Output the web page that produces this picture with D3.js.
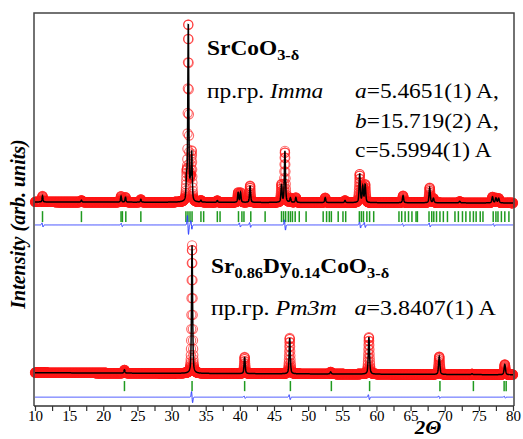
<!DOCTYPE html>
<html>
<head>
<meta charset="utf-8">
<script src="https://cdnjs.cloudflare.com/ajax/libs/d3/7.8.5/d3.min.js"></script>
<style>
  body { margin: 0; background: #fff; }
  text { font-family: "Liberation Serif", "Times New Roman", serif; }
</style>
</head>
<body>
<div id="chart"></div>
<script>
var width = 523;
var height = 439;

// x axis
var xMin = 10, xMax = 80;
var xTickLabels = [10, 15, 20, 25, 30, 35, 40, 45, 50, 55, 60, 65, 70, 75, 80];
var xStep = 0.02;

// SrCoO3-d (Imma): peak positions (2theta) and heights (% of strongest)
var upperPeakPos =    [11.1, 16.8, 22.6, 23.25, 25.5, 32.2, 32.45, 32.75, 32.95, 34.3, 36.7, 39.75, 40.1, 41.5, 46.1, 46.6, 47.4, 48.2, 52.5, 55.4, 57.55, 58.0, 58.35, 63.9, 67.8, 68.35, 72.2, 77.0, 77.5, 77.9];
var upperPeakHeight = [3.4,  1.0,  3.4,  2.8,   1.6,  12,   100,   9,     27,    1.0,  1.0,  5.5,   5.5,  9.5,  10,   29,   2.5,  2.8,  2.8,  1.2,  16,    9,    10,    4,    8.5,  2.5,   0.9,  3.4,  2.8,  2.6];
var upperBackground = [[10, 0.6], [80, 0]];
// Imma reflection markers
var upperTicks = [11.1, 16.8, 22.6, 22.8, 23.3, 25.5, 32.1, 32.4, 32.7, 33.0, 34.3, 34.7, 36.7, 37.1, 39.8, 40.3, 40.6, 41.6, 43.7,
  46.1, 46.4, 46.7, 47.1, 47.4, 47.7, 48.1, 48.7, 49.7, 52.2, 52.7, 53.1, 53.4, 54.4, 55.1, 55.5,
  57.5, 57.8, 58.1, 58.6, 59.0, 59.6, 63.3, 63.7, 64.2, 64.7, 65.2, 65.8, 66.0,
  67.7, 68.1, 68.4, 68.8, 69.3, 69.8, 70.4, 71.5, 72.0, 72.6, 73.1, 73.7, 74.2, 74.6, 75.2, 75.6,
  77.1, 77.5, 77.8, 78.3, 78.8, 79.4];
// difference curve wiggles: position, amplitude
var upperDiffPos = [11.1, 22.7, 32.4, 32.9, 40.0, 41.5, 46.6, 57.6, 58.3, 63.9, 67.8, 77.2];
var upperDiffAmp = [1.2,  1.0,  5.5,  2.5,  1.2,  1.4,  3.0,  1.8,  1.5,  0.8,  1.2,  0.8];

// Sr0.86Dy0.14CoO3-d (Pm3m)
var lowerPeakPos =    [23.1, 33.0, 40.7, 47.3, 53.3, 58.9, 69.2, 74.0, 78.8];
var lowerPeakHeight = [2.6,  100,  13,   28,   1.6,  29,   14,   0.6,  8];
var lowerBackground = [[10, 1.0], [80, -0.6]];
var lowerTicks = [23.1, 33.0, 40.7, 47.4, 53.4, 59.0, 69.3, 74.2, 78.7, 79.0];
var lowerDiffPos = [33.0, 40.7, 47.3, 58.9, 69.2, 78.8];
var lowerDiffAmp = [4.5,  1.0,  2.0,  2.0,  1.0,  0.8];

var upperFwhm = 0.15, lowerFwhm = 0.16;

// layout
var plotLeft = 34, plotRight = 514, plotTop = 13, plotBottom = 406;
var textStretch = 1.17;

var svg = d3.select('#chart').append('svg')
  .attr('width', width)
  .attr('height', height);

var x = d3.scaleLinear().domain([xMin, xMax]).range([plotLeft + 1, plotRight - 1]);

function pseudoVoigt(t, pos, fwhm) {
  var h = fwhm / 2;
  var d = t - pos;
  var lor = 1 / (1 + (d * d) / (h * h));
  var gau = Math.exp(-Math.LN2 * (d * d) / (h * h));
  return 0.5 * lor + 0.5 * gau;
}

function buildProfile(pos, heights, bg, fwhm) {
  var bgScale = d3.scaleLinear().domain(bg.map(function (b) { return b[0]; })).range(bg.map(function (b) { return b[1]; }));
  var pts = [];
  for (var t = xMin; t <= xMax + 1e-9; t += xStep) {
    var v = bgScale(t);
    for (var i = 0; i < pos.length; i++) {
      if (Math.abs(t - pos[i]) < 6) {
        v += heights[i] * pseudoVoigt(t, pos[i], fwhm * (1 + (pos[i] - 10) / 140));
      }
    }
    pts.push([t, v]);
  }
  return pts;
}

function buildDiff(pos, amps, offset) {
  var pts = [];
  for (var t = xMin; t <= xMax + 1e-9; t += xStep) {
    var v = offset;
    for (var i = 0; i < pos.length; i++) {
      var d = (t - pos[i]) / 0.08;
      if (Math.abs(d) < 8) {
        v += -amps[i] * d * Math.exp(-d * d / 2) * 1.6;
      }
    }
    pts.push([t, v]);
  }
  return pts;
}

function drawPanel(cfg) {
  var y = d3.scaleLinear().domain([0, 100]).range([cfg.base, cfg.top]);
  var g = svg.append('g');
  var profile = buildProfile(cfg.pos, cfg.heights, cfg.bg, cfg.fwhm);

  // observed (open circles)
  g.append('g').selectAll('circle')
    .data(profile)
    .enter()
    .append('circle')
    .attr('cx', function (d) { return x(d[0]); })
    .attr('cy', function (d) { return y(d[1]); })
    .attr('r', 4.6)
    .attr('fill', 'none')
    .attr('stroke', '#ff1a1a')
    .attr('stroke-opacity', 0.65)
    .attr('stroke-width', 1.1);

  // calculated
  g.append('path')
    .datum(profile)
    .attr('fill', 'none')
    .attr('stroke', '#000')
    .attr('stroke-width', 1.5)
    .attr('d', d3.line().x(function (d) { return x(d[0]); }).y(function (d) { return y(d[1]); }));

  // reflection markers
  g.append('g').selectAll('line')
    .data(cfg.ticks)
    .enter()
    .append('line')
    .attr('x1', function (d) { return x(d); })
    .attr('x2', function (d) { return x(d); })
    .attr('y1', y(cfg.tickTop))
    .attr('y2', y(cfg.tickBottom))
    .attr('stroke', '#1f9a1f')
    .attr('stroke-width', 1.5);

  // difference
  var diff = buildDiff(cfg.diffPos, cfg.diffAmp, cfg.diffOffset);
  g.append('path')
    .datum(diff)
    .attr('fill', 'none')
    .attr('stroke', '#2b3cff')
    .attr('stroke-width', 1)
    .attr('d', d3.line().x(function (d) { return x(d[0]); }).y(function (d) { return y(d[1]); }));
}

drawPanel({
  base: 203, top: 26, pos: upperPeakPos, heights: upperPeakHeight, bg: upperBackground, fwhm: upperFwhm,
  ticks: upperTicks, tickTop: -4.6, tickBottom: -10.8,
  diffPos: upperDiffPos, diffAmp: upperDiffAmp, diffOffset: -12.4
});

drawPanel({
  base: 374, top: 246, pos: lowerPeakPos, heights: lowerPeakHeight, bg: lowerBackground, fwhm: lowerFwhm,
  ticks: lowerTicks, tickTop: -5.5, tickBottom: -13.4,
  diffPos: lowerDiffPos, diffAmp: lowerDiffAmp, diffOffset: -18.1
});

// frame
svg.append('path')
  .attr('d', 'M' + plotLeft + ',' + plotBottom + 'V' + plotTop + 'H' + plotRight + 'V' + plotBottom)
  .attr('fill', 'none')
  .attr('stroke', '#444')
  .attr('stroke-width', 1.5);

// x axis
var xTicksAll = d3.range(xMin, xMax + 0.01, 2.5);
var xAxis = d3.axisBottom(x)
  .tickValues(xTicksAll)
  .tickSize(5)
  .tickFormat(function (d) { return xTickLabels.indexOf(d) >= 0 ? d : ''; });

var axisG = svg.append('g')
  .attr('transform', 'translate(0,' + plotBottom + ')')
  .call(xAxis);
axisG.select('.domain')
  .attr('d', 'M' + plotLeft + ',0H' + plotRight)
  .attr('stroke', '#333')
  .attr('stroke-width', 1.5);
axisG.selectAll('.tick line').attr('stroke', '#333').attr('stroke-width', 1.2);
axisG.selectAll('.tick text')
  .attr('font-family', '"Liberation Serif", serif')
  .attr('font-size', 15)
  .attr('fill', '#000')
  .attr('dy', '0.8em')
  .attr('y', 3);

// axis titles
svg.append('text')
  .attr('transform', 'translate(428,433.5) scale(' + textStretch + ',1)')
  .attr('text-anchor', 'middle')
  .attr('font-size', 18)
  .attr('font-weight', 'bold')
  .attr('font-style', 'italic')
  .text('2Θ');

svg.append('text')
  .attr('transform', 'translate(25,224) rotate(-90)')
  .attr('text-anchor', 'middle')
  .attr('font-size', 20)
  .attr('font-weight', 'bold')
  .attr('font-style', 'italic')
  .text('Intensity (arb. units)');

// helper for horizontally stretched annotation text
function label(xPos, yPos, size, weight) {
  return svg.append('text')
    .attr('transform', 'translate(' + xPos + ',' + yPos + ') scale(' + textStretch + ',1)')
    .attr('font-size', size)
    .attr('font-weight', weight || 'normal');
}

// annotations: upper
var t1 = label(207, 55, 20, 'bold');
t1.append('tspan').text('SrCoO');
t1.append('tspan').attr('font-size', 14).attr('dy', 5).text('3-δ');

var t2 = label(207, 98, 20);
t2.append('tspan').text('пр.гр. ');
t2.append('tspan').attr('font-style', 'italic').text('Imma');

var t3 = label(355, 98, 20);
t3.append('tspan').attr('font-style', 'italic').text('a');
t3.append('tspan').text('=5.4651(1) A,');

var t4 = label(355, 128, 20);
t4.append('tspan').attr('font-style', 'italic').text('b');
t4.append('tspan').text('=15.719(2) A,');

label(355, 157, 20).text('c=5.5994(1) A');

// annotations: lower
var t5 = label(211, 273, 20, 'bold');
t5.append('tspan').text('Sr');
t5.append('tspan').attr('font-size', 14).attr('dy', 5).text('0.86');
t5.append('tspan').attr('dy', -5).text('Dy');
t5.append('tspan').attr('font-size', 14).attr('dy', 5).text('0.14');
t5.append('tspan').attr('dy', -5).text('CoO');
t5.append('tspan').attr('font-size', 14).attr('dy', 5).text('3-δ');

var t6 = label(211, 315, 20.5);
t6.append('tspan').text('пр.гр. ');
t6.append('tspan').attr('font-style', 'italic').text('Pm3m');
t6.append('tspan').attr('dx', 15).attr('font-style', 'italic').text('a');
t6.append('tspan').text('=3.8407(1) A');
</script>
</body>
</html>
